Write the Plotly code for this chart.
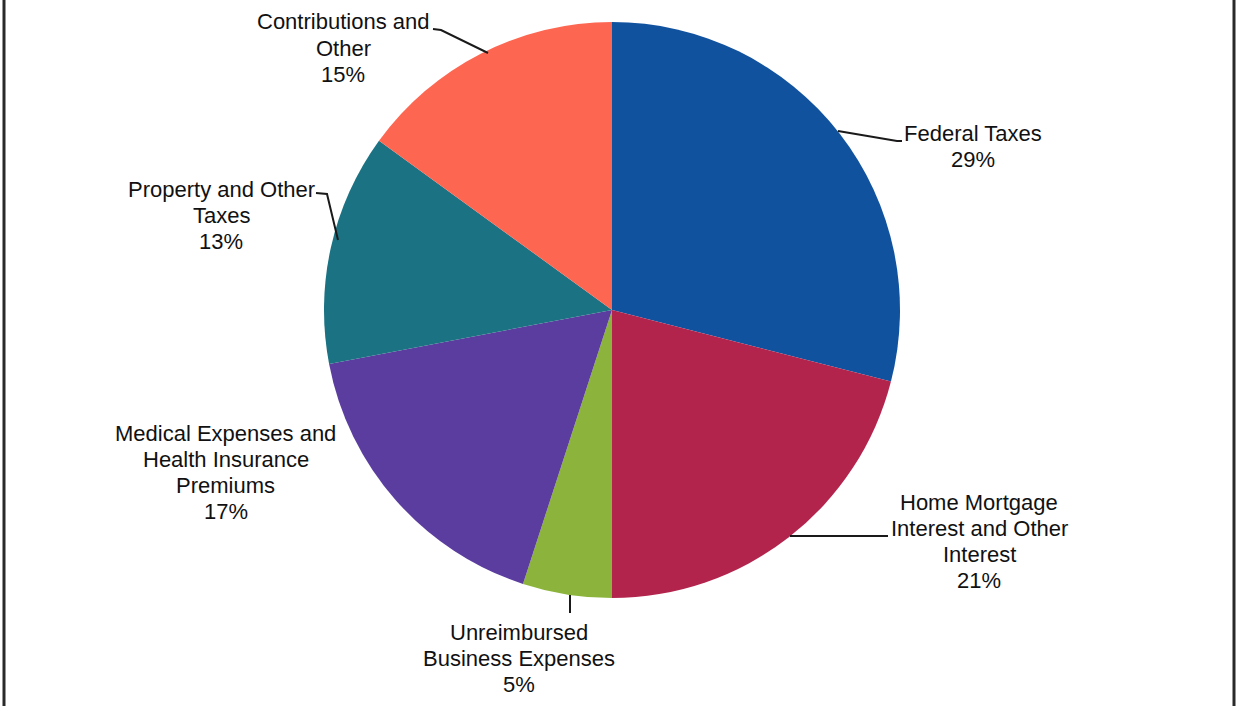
import plotly.graph_objects as go

W, H = 1239, 706

categories = [
    "Federal Taxes",
    "Home Mortgage Interest and Other Interest",
    "Unreimbursed Business Expenses",
    "Medical Expenses and Health Insurance Premiums",
    "Property and Other Taxes",
    "Contributions and Other",
]
values = [29, 21, 5, 17, 13, 15]
colors = ["#11529f", "#b3244d", "#8cb43c", "#5b3c9f", "#1b7282", "#fd6751"]

# label lines as displayed (wrapped) for each category
label_lines = [
    ["Federal Taxes"],
    ["Home Mortgage", "Interest and Other", "Interest"],
    ["Unreimbursed", "Business Expenses"],
    ["Medical Expenses and", "Health Insurance", "Premiums"],
    ["Property and Other", "Taxes"],
    ["Contributions and", "Other"],
]
# label anchor (pixel) positions: center x, first line center y
label_pos = [(973, 133), (979, 502), (519, 632), (226, 433), (221, 190), (343, 22)]

# leader lines (pixel polylines)
leaders = [
    [(838, 131), (897, 141), (902, 141)],
    [(790, 536), (888, 536)],
    [(570, 595), (570, 613)],
    None,
    [(316, 193), (327, 194), (338, 240)],
    [(433, 29), (441, 30), (488, 53)],
]

def px(x):
    return x / W

def py(y):
    return 1 - y / H

cx, cy, r = 612, 310, 288

fig = go.Figure()
fig.add_trace(go.Pie(
    labels=categories,
    values=values,
    sort=False,
    direction="clockwise",
    rotation=0,
    marker=dict(colors=colors, line=dict(width=0)),
    textinfo="none",
    hoverinfo="label+percent",
    domain=dict(x=[px(cx - r), px(cx + r)], y=[py(cy + r), py(cy - r)]),
    showlegend=False,
))

total = sum(values)
LINE = 26
annotations = []
for lines, v, (x, y) in zip(label_lines, values, label_pos):
    all_lines = lines + [f"{round(100 * v / total)}%"]
    for i, t in enumerate(all_lines):
        annotations.append(dict(
            x=px(x), y=py(y), xref="paper", yref="paper",
            text=t, showarrow=False, xanchor="center", yanchor="middle",
            yshift=-i * LINE,
            font=dict(family="Liberation Sans, Arial, sans-serif", size=22, color="#111111"),
        ))

shapes = []
for pts in leaders:
    if not pts:
        continue
    path = "M " + " L ".join(f"{px(a)},{py(b)}" for a, b in pts)
    shapes.append(dict(type="path", xref="paper", yref="paper", path=path,
                       line=dict(color="#1a1a1a", width=2)))

# frame (top and bottom lie outside the visible area)
shapes.append(dict(type="rect", xref="paper", yref="paper",
                   x0=px(4), x1=px(1234), y0=py(760), y1=py(-40),
                   line=dict(color="#2a2a2a", width=3)))

fig.update_layout(
    width=W, height=H,
    margin=dict(l=0, r=0, t=0, b=0),
    paper_bgcolor="white", plot_bgcolor="white",
    annotations=annotations,
    shapes=shapes,
)

fig.write_html("out.html")
